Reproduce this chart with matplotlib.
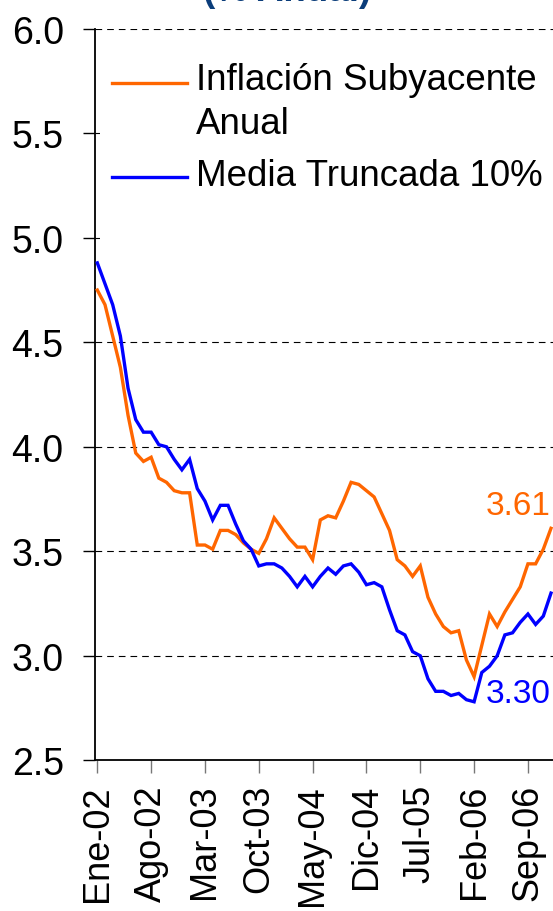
import matplotlib
matplotlib.use("Agg")
import matplotlib.pyplot as plt
from matplotlib.patches import Rectangle

plt.rcParams['font.family'] = ['Liberation Sans', 'DejaVu Sans']

months = ['Ene', 'Feb', 'Mar', 'Abr', 'May', 'Jun', 'Jul', 'Ago', 'Sep', 'Oct', 'Nov', 'Dic']
years = ['02', '03', '04', '05', '06']
dates = [f"{m}-{y}" for y in years for m in months]  # Ene-02 .. Dic-06

subyacente = [4.75, 4.68, 4.53, 4.38, 4.15, 3.97, 3.93, 3.95, 3.85, 3.83,
              3.79, 3.78, 3.78, 3.53, 3.53, 3.51, 3.60, 3.60, 3.58, 3.54,
              3.51, 3.49, 3.56, 3.66, 3.61, 3.56, 3.52, 3.52, 3.46, 3.65,
              3.67, 3.66, 3.74, 3.83, 3.82, 3.79, 3.76, 3.68, 3.60, 3.46,
              3.43, 3.38, 3.43, 3.28, 3.20, 3.14, 3.11, 3.12, 2.98, 2.90,
              3.05, 3.20, 3.14, 3.21, 3.27, 3.33, 3.44, 3.44, 3.51, 3.61]

media_truncada = [4.88, 4.78, 4.68, 4.53, 4.28, 4.13, 4.07, 4.07, 4.01, 4.00,
                  3.94, 3.89, 3.94, 3.80, 3.74, 3.65, 3.72, 3.72, 3.63, 3.55,
                  3.51, 3.43, 3.44, 3.44, 3.42, 3.38, 3.33, 3.38, 3.33, 3.38,
                  3.42, 3.39, 3.43, 3.44, 3.40, 3.34, 3.35, 3.33, 3.22, 3.12,
                  3.10, 3.02, 3.00, 2.89, 2.83, 2.83, 2.81, 2.82, 2.79, 2.78,
                  2.92, 2.95, 3.00, 3.10, 3.11, 3.16, 3.20, 3.15, 3.19, 3.30]

tick_labels = ['Ene-02', 'Ago-02', 'Mar-03', 'Oct-03', 'May-04', 'Dic-04',
               'Jul-05', 'Feb-06', 'Sep-06']
y_ticks = [2.5, 3.0, 3.5, 4.0, 4.5, 5.0, 5.5, 6.0]

ORANGE = '#FF6600'
BLUE = '#0000FF'

W, H = 553, 912
fig = plt.figure(figsize=(W / 100, H / 100), dpi=100)
ax = fig.add_axes([95 / W, 1 - 761.3 / H, (W - 95) / W, (761.3 - 29.8) / H])

x = list(range(len(dates)))
ax.plot(x, subyacente, color=ORANGE, lw=2.4, zorder=4, solid_joinstyle='miter')
ax.plot(x, media_truncada, color=BLUE, lw=2.4, zorder=4, solid_joinstyle='miter')

ax.set_ylim(2.5, 6.0)
ax.set_xlim(-0.3, 59.26)
ax.set_yticks(y_ticks)
ax.set_yticklabels([f"{v:.1f}" for v in y_ticks])
tick_pos = [dates.index(t) for t in tick_labels]
ax.set_xticks(tick_pos)
ax.set_xticklabels(tick_labels, rotation=90)

for gy in [3.0, 3.5, 4.0, 4.5, 5.0, 5.5, 6.0]:
    ax.axhline(gy, color='black', lw=0.8, dashes=(6, 4.5), zorder=1)

ax.spines['top'].set_visible(False)
ax.spines['right'].set_visible(False)
ax.spines['left'].set_linewidth(1.3)
ax.spines['bottom'].set_linewidth(1.3)
ax.tick_params(axis='y', direction='out', length=8.5, width=1.0, labelsize=27, pad=14)
ax.tick_params(axis='x', direction='out', length=9, width=1.0, color='#777777',
               labelsize=26, pad=8)

ax_h = 761.3 - 29.8
def ay(py):
    return (761.3 - py) / ax_h
def axx(px):
    return (px - 95) / (W - 95)

# legend area (white box covering gridlines)
ax.add_patch(Rectangle((axx(100), ay(252)), axx(553) - axx(100), ay(36) - ay(252),
                       transform=ax.transAxes, facecolor='white', edgecolor='none',
                       zorder=2))
ax.plot([axx(112), axx(187)], [ay(84), ay(84)], color=ORANGE, lw=2.4,
        transform=ax.transAxes, zorder=3)
ax.plot([axx(112), axx(187)], [ay(178), ay(178)], color=BLUE, lw=2.4,
        transform=ax.transAxes, zorder=3)
ax.text(axx(196), ay(81), 'Inflación Subyacente', transform=ax.transAxes,
        fontsize=26.5, va='center', ha='left', zorder=3)
ax.text(axx(196), ay(124), 'Anual', transform=ax.transAxes,
        fontsize=26.5, va='center', ha='left', zorder=3)
ax.text(axx(196), ay(176), 'Media Truncada 10%', transform=ax.transAxes,
        fontsize=26.5, va='center', ha='left', zorder=3)

# end-value labels
ax.annotate(f"{subyacente[-1]:.2f}", xy=(x[-1], subyacente[-1]), xytext=(551, 912 - 507),
            textcoords='figure pixels', color=ORANGE, fontsize=24, ha='right', va='center')
ax.annotate(f"{media_truncada[-1]:.2f}", xy=(x[-1], media_truncada[-1]), xytext=(551, 912 - 695),
            textcoords='figure pixels', color=BLUE, fontsize=24, ha='right', va='center')

# title, cut off at the top edge as in the reference
fig.text(287.5 / W, 1 - 1 / H, '(% Anual)', color='#0B3D7A', fontsize=26.5,
         fontweight='bold', ha='center', va='baseline')

fig.savefig('out.png', dpi=100)
